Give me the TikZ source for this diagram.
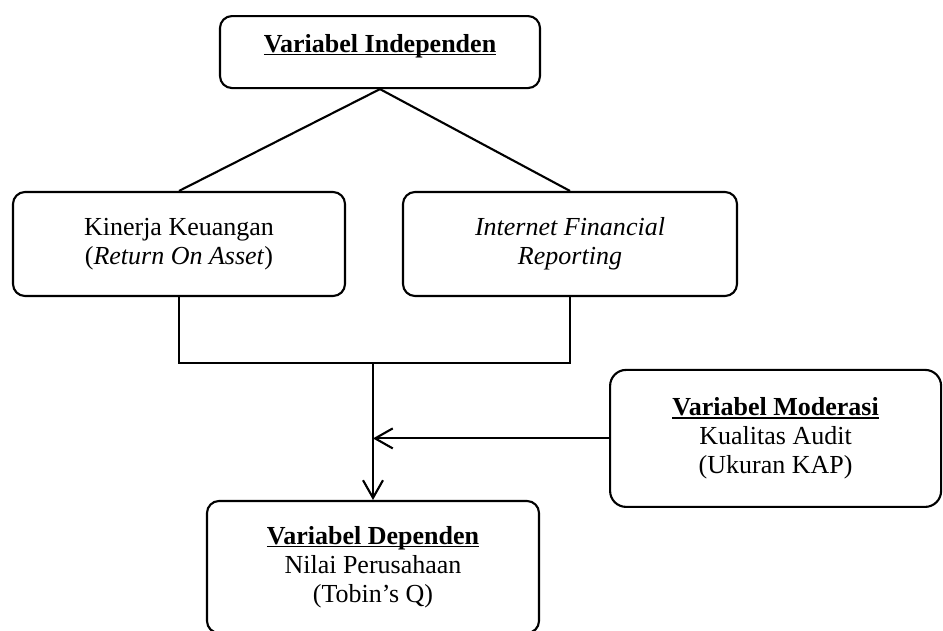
\documentclass[tikz,border=0pt]{standalone}
\usepackage{fontspec}
\setmainfont{Liberation Serif}
\usepackage{tikz}
\usetikzlibrary{arrows.meta}

\newcommand{\ulhead}[1]{\setbox0\hbox{\textbf{#1}}\rlap{\rule[-2pt]{\wd0}{1.1pt}}\box0}

\begin{document}
\begin{tikzpicture}[
    font=\fontsize{18.5}{20.6}\selectfont,
    line width=1.5pt,
    box/.style={draw, rounded corners=0.3cm, align=center, inner sep=0pt},
    arr/.style={-{Straight Barb[length=0.44cm, width=0.5cm]}}
  ]
  \useasboundingbox (0, 0) rectangle (23.575, -15.75);

  \node (indep) at (9.5, -0.375) [box, anchor=north, minimum width=8cm, text height=0.9125cm, text depth=0.8875cm] {\ulhead{Variabel Independen}};
  \node (kin) at (4.475, -6.1) [box, minimum width=8.3cm, minimum height=2.6cm] {Kinerja Keuangan\\(\textit{Return On Asset})};
  \node (ifr) at (14.25, -6.1) [box, minimum width=8.35cm, minimum height=2.6cm] {\textit{Internet Financial}\\\textit{Reporting}};
  \node (mod) at (19.39, -10.96) [box, rounded corners=0.4cm, minimum width=8.275cm, minimum height=3.425cm] {\ulhead{Variabel Moderasi}\\Kualitas Audit\\(Ukuran KAP)};
  \node (dep) at (9.325, -14.175) [box, minimum width=8.3cm, minimum height=3.3cm] {\ulhead{Variabel Dependen}\\Nilai Perusahaan\\(Tobin’s Q)};

  \coordinate (jn) at (9.325, -9.075);

  \draw (indep.south) -- (kin.north);
  \draw (indep.south) -- (ifr.north);
  \draw (kin.south) -- (kin.south |- jn) -- (ifr.south |- jn) -- (ifr.south);
  \draw[arr] (jn) -- (dep.north);
  \draw[arr] (mod.west) -- (mod.west -| jn);
\end{tikzpicture}
\end{document}
